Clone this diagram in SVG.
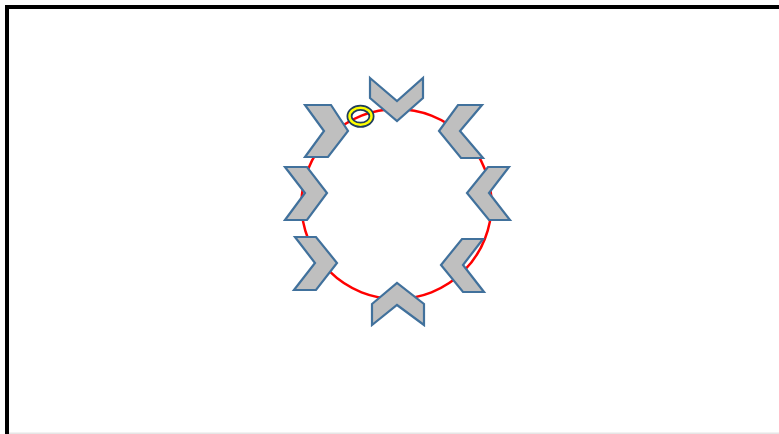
<svg xmlns="http://www.w3.org/2000/svg" width="779" height="434" viewBox="0 0 779 434">
<style>
.chev{fill:#bfbfbf;stroke:#41719c;stroke-width:2.2;stroke-linejoin:miter}
</style>
<rect width="779" height="434" fill="#ffffff"/>
<rect x="9" y="432.5" width="770" height="1.5" fill="#e6e6e6"/>
<path d="M7,434 V7 H790" fill="none" stroke="#000" stroke-width="4"/>
<g id="circle">
<circle cx="396.5" cy="204" r="95" fill="none" stroke="#ff0000" stroke-width="2.5"/>
</g>
<g id="chevrons">
<g id="chev-top"><polygon class="chev" points="370,78 397,101 423,78 423,98 397,121 370,98"/></g>
<g id="chev-bottom"><polygon class="chev" points="372,304 397,283 424,304 424,325 397,305 372,325"/></g>
<g id="chev-ul"><polygon class="chev" points="305,105 331,105 348,131 328,157 305,157 324,131"/></g>
<g id="chev-ur"><polygon class="chev" points="482,105 458,105 439,131 461,158 483,158 460,131"/></g>
<g id="chev-ml"><polygon class="chev" points="285,167 307,167 327,193 307,220 285,220 305,193"/></g>
<g id="chev-mr"><polygon class="chev" points="509,167 488,167 467,193 489,220 510,220 489,193"/></g>
<g id="chev-ll"><polygon class="chev" points="295,237 316,237 337,263 316,290 294,290 315,263"/></g>
<g id="chev-lr"><polygon class="chev" points="483,239 462,239 441,265 463,292 484,292 463,265"/></g>
</g>
<g id="ring">
<ellipse cx="360.5" cy="116.3" rx="11" ry="8.5" fill="none" stroke="#1f3d5c" stroke-width="6"/>
<ellipse cx="360.5" cy="116.3" rx="11" ry="8.5" fill="none" stroke="#ffff00" stroke-width="2.5"/>
</g>
</svg>
